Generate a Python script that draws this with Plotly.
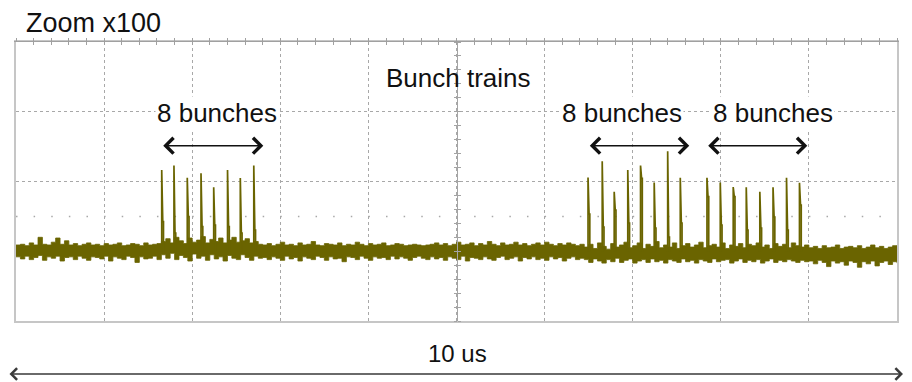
import plotly.graph_objects as go

# ---------------- data ----------------
# oscilloscope baseline envelope, sampled every 0.05 us (0 .. 10 us), in divisions
T_STEP_US = 0.05
upper_edge = [
    1.09, 1.10, 1.08, 1.12, 1.09, 1.20, 1.10, 1.09, 1.13, 1.19, 1.10, 1.15, 1.09, 1.11, 1.08, 1.10, 1.12,
    1.09, 1.10, 1.08, 1.11, 1.09, 1.10, 1.12, 1.08, 1.09, 1.11, 1.10, 1.08, 1.12, 1.09, 1.10, 1.11,
    1.14, 1.18, 1.12, 1.20, 1.15, 1.11, 1.19, 1.13, 1.16, 1.21, 1.12, 1.17, 1.14, 1.19, 1.12, 1.16,
    1.20, 1.13, 1.15, 1.18, 1.12, 1.14, 1.10,
    1.09, 1.11, 1.08, 1.10, 1.13, 1.09, 1.10, 1.08, 1.12, 1.09, 1.10, 1.14, 1.09, 1.08, 1.11, 1.10,
    1.09, 1.12, 1.08, 1.10, 1.09, 1.13, 1.10, 1.08, 1.11, 1.09, 1.10, 1.12, 1.08, 1.09, 1.11, 1.10,
    1.08, 1.09, 1.10, 1.09, 1.08, 1.09, 1.10, 1.12, 1.09, 1.11, 1.08, 1.10, 1.13, 1.09, 1.10, 1.12,
    1.08, 1.11, 1.09, 1.14, 1.10, 1.08, 1.12, 1.09, 1.10, 1.13, 1.09, 1.11, 1.08, 1.10, 1.12, 1.09,
    1.13, 1.10, 1.08, 1.11, 1.09, 1.12, 1.10, 1.08, 1.10,
    1.06, 1.10, 1.04, 1.12, 1.07, 1.03, 1.11, 1.06, 1.09, 1.13, 1.05, 1.08, 1.12, 1.04, 1.10, 1.07,
    1.14, 1.05, 1.09, 1.06, 1.12, 1.04, 1.08, 1.11, 1.06, 1.09, 1.13, 1.05, 1.08, 1.10, 1.06, 1.12,
    1.04, 1.09, 1.07, 1.11, 1.05, 1.10, 1.08, 1.12, 1.06, 1.09, 1.04, 1.11, 1.07, 1.10, 1.05, 1.12,
    1.08, 1.06, 1.09,
    1.05, 1.07, 1.04, 1.08, 1.05, 1.06, 1.09, 1.04, 1.06, 1.07, 1.05, 1.08, 1.04, 1.06, 1.09, 1.05,
    1.07, 1.04, 1.06, 1.08, 1.06,
]
lower_edge = [
    0.92, 0.89, 0.93, 0.88, 0.91, 0.94, 0.87, 0.92, 0.90, 0.93, 0.86, 0.91, 0.92, 0.88, 0.93, 0.90, 0.87,
    0.92, 0.91, 0.89, 0.93, 0.86, 0.92, 0.90, 0.88, 0.93, 0.91, 0.84, 0.92, 0.89, 0.90, 0.93, 0.88,
    0.95, 0.90, 0.97, 0.88, 0.94, 0.91, 0.86, 0.96, 0.90, 0.93, 0.87, 0.95, 0.89, 0.92, 0.86, 0.94,
    0.90, 0.88, 0.95, 0.91, 0.87, 0.93, 0.90,
    0.91, 0.88, 0.92, 0.90, 0.87, 0.93, 0.89, 0.91, 0.86, 0.92, 0.90, 0.88, 0.93, 0.91, 0.87, 0.92,
    0.89, 0.90, 0.85, 0.92, 0.91, 0.88, 0.93, 0.90, 0.87, 0.92, 0.90, 0.91, 0.88, 0.93, 0.89, 0.92,
    0.90, 0.87, 0.91, 0.93, 0.90, 0.88, 0.92, 0.89, 0.91, 0.87, 0.92, 0.90, 0.88, 0.93, 0.86, 0.91,
    0.90, 0.88, 0.92, 0.89, 0.87, 0.91, 0.93, 0.88, 0.90, 0.92, 0.86, 0.91, 0.89, 0.92, 0.88, 0.90,
    0.87, 0.92, 0.89, 0.91, 0.86, 0.90, 0.92, 0.88, 0.90,
    0.88, 0.84, 0.89, 0.86, 0.83, 0.88, 0.85, 0.90, 0.84, 0.87, 0.89, 0.83, 0.86, 0.88, 0.84, 0.89,
    0.85, 0.87, 0.83, 0.88, 0.86, 0.84, 0.89, 0.85, 0.87, 0.83, 0.88, 0.86, 0.84, 0.89, 0.85, 0.87,
    0.88, 0.83, 0.86, 0.89, 0.84, 0.87, 0.85, 0.88, 0.83, 0.86, 0.89, 0.84, 0.87, 0.85, 0.88, 0.86,
    0.84, 0.87, 0.85,
    0.86, 0.82, 0.87, 0.84, 0.78, 0.86, 0.83, 0.85, 0.80, 0.86, 0.84, 0.77, 0.85, 0.82, 0.86, 0.79,
    0.84, 0.86, 0.81, 0.85, 0.83,
]
time_us = [round(i * T_STEP_US, 2) for i in range(len(upper_edge))]

# bunch spikes: time (us), peak (div), secondary ringing level (div)
train1_t = [1.654, 1.793, 1.944, 2.100, 2.244, 2.401, 2.546, 2.699]
train1_peak = [2.165, 2.229, 2.054, 2.119, 1.917, 2.165, 2.050, 2.229]
train1_sec = [1.424, 1.262, 1.495, 1.352, 1.376, 1.352, 1.262, 1.305]

train2_t = [6.493, 6.654, 6.790, 6.944, 7.089, 7.244, 7.397, 7.540]
train2_peak = [2.057, 2.291, 1.854, 2.165, 2.229, 1.986, 2.433, 2.054]
train2_sec = [1.534, 1.348, 1.591, 1.405, 2.046, 1.333, 1.204, 1.405]

train3_t = [7.843, 7.994, 8.141, 8.289, 8.443, 8.593, 8.746, 8.893]
train3_peak = [2.054, 1.986, 1.921, 1.918, 1.854, 1.918, 2.054, 1.983]
train3_sec = [1.782, 1.376, 1.782, 1.305, 1.333, 1.491, 1.305, 1.663]

# annotation arrows above the trains (us)
arrow_start = [1.654, 6.496, 7.840]
arrow_end = [2.807, 7.642, 8.982]
arrow_level = 2.513
label_x = [2.287, 6.875, 8.596]
label_text = ["8 bunches", "8 bunches", "8 bunches"]

# ---------------- figure ----------------
TRACE = "#6a6400"
FONT = "Liberation Sans, Arial, sans-serif"

fig = go.Figure()

fig.add_trace(go.Scatter(x=time_us, y=lower_edge, mode="lines", line=dict(color=TRACE, width=0.8, shape="hv"),
                         hoverinfo="skip"))
fig.add_trace(go.Scatter(x=time_us, y=upper_edge, mode="lines", line=dict(color=TRACE, width=0.8, shape="hv"),
                         fill="tonexty", fillcolor=TRACE, hoverinfo="skip"))

sx, sy = [], []
for ts, ps, ss in ((train1_t, train1_peak, train1_sec),
                   (train2_t, train2_peak, train2_sec),
                   (train3_t, train3_peak, train3_sec)):
    for t, p, s in zip(ts, ps, ss):
        sx += [t, t, t + 0.012, t + 0.02, t + 0.02, None]
        sy += [1.0, p, s, s, 1.0, None]
fig.add_trace(go.Scatter(x=sx, y=sy, mode="lines", line=dict(color=TRACE, width=1.7), hoverinfo="skip"))

# dummy traces to register overlay axes
fig.add_trace(go.Scatter(x=[None], y=[None], xaxis="x2", yaxis="y", hoverinfo="skip"))
fig.add_trace(go.Scatter(x=[None], y=[None], xaxis="x3", yaxis="y", hoverinfo="skip"))
fig.add_trace(go.Scatter(x=[None], y=[None], xaxis="x", yaxis="y2", hoverinfo="skip"))
fig.add_trace(go.Scatter(x=[None], y=[None], xaxis="x", yaxis="y3", hoverinfo="skip"))

GRID = "#a8a8a8"
FRAME = "#c6c6c6"
TICK = "#a0a0a0"
fig.update_layout(
    width=912, height=382,
    margin=dict(l=16, r=15, t=42, b=61, autoexpand=False),
    paper_bgcolor="white", plot_bgcolor="white",
    showlegend=False,
    xaxis=dict(range=[0, 10], dtick=1, showgrid=True, gridcolor=GRID, griddash="dot", gridwidth=1,
               showline=True, linecolor=FRAME, linewidth=1.5, mirror=True, ticks="",
               showticklabels=False, zeroline=False, automargin=False),
    xaxis2=dict(overlaying="x", matches="x", side="top", range=[0, 10], dtick=1, showgrid=False,
                showline=True, linecolor=TICK, linewidth=1, ticks="inside", ticklen=3,
                tickcolor=TICK, showticklabels=False, zeroline=False, automargin=False,
                minor=dict(dtick=0.2, ticks="inside", ticklen=3, tickcolor=TICK, showgrid=False)),
    xaxis3=dict(overlaying="x", matches="x", side="top", range=[0, 10], dtick=1, showgrid=False,
                showline=False, ticks="outside", ticklen=3, tickcolor=TICK,
                showticklabels=False, zeroline=False, automargin=False,
                minor=dict(dtick=0.2, ticks="outside", ticklen=3, tickcolor=TICK, showgrid=False)),
    yaxis=dict(range=[0, 4], dtick=1, showgrid=True, gridcolor=GRID, griddash="dot", gridwidth=1,
               showline=True, linecolor=FRAME, linewidth=1.5, mirror=True, ticks="",
               showticklabels=False, zeroline=False, automargin=False),
    yaxis2=dict(overlaying="y", matches="y", anchor="free", position=0.5, side="left", range=[0, 4],
                dtick=0.2, showgrid=False, showline=True, linecolor="#a4a4a4", linewidth=1,
                ticks="outside", ticklen=3, tickcolor="#a4a4a4", showticklabels=False, zeroline=False,
                automargin=False),
    yaxis3=dict(overlaying="y", matches="y", anchor="free", position=0.5, side="right", range=[0, 4],
                dtick=0.2, showgrid=False, showline=False,
                ticks="outside", ticklen=3, tickcolor="#a4a4a4", showticklabels=False, zeroline=False,
                automargin=False),
)

# sparse dotted reference at 1.5 div
fig.add_shape(type="line", xref="x", yref="y", x0=0, x1=10, y0=1.5, y1=1.5,
              line=dict(color="#a8a8a8", width=1.5, dash="1.5px,16.12px"), layer="below")

# double arrows and labels
for a0, a1, lx, lt in zip(arrow_start, arrow_end, label_x, label_text):
    fig.add_annotation(x=a1, y=arrow_level, ax=a0, ay=arrow_level, xref="x", yref="y", axref="x", ayref="y",
                       text="", showarrow=True, arrowhead=4, startarrowhead=4, arrowside="end+start",
                       arrowwidth=1.6, arrowsize=1.9, startarrowsize=1.9, arrowcolor="#111111")
    fig.add_annotation(x=lx, y=2.98, xref="x", yref="y", text=lt, showarrow=False,
                       font=dict(family=FONT, size=26, color="#111111"), bgcolor="white",
                       xanchor="center", yanchor="middle")

fig.add_annotation(x=5.028, y=3.48, xref="x", yref="y", text="Bunch trains", showarrow=False,
                   font=dict(family=FONT, size=26, color="#111111"), xanchor="center", yanchor="middle")

fig.add_annotation(x=0.009, y=1.068, xref="paper", yref="paper", text="Zoom x100", showarrow=False,
                   font=dict(family=FONT, size=27, color="#111111"), xanchor="left", yanchor="middle")

fig.add_annotation(x=0.501, y=-0.118, xref="paper", yref="paper", text="10 us", showarrow=False,
                   font=dict(family=FONT, size=24, color="#111111"), xanchor="center", yanchor="middle")

fig.add_annotation(x=1.0068, y=-0.19, xref="paper", yref="paper", ax=-895, ay=0, axref="pixel", ayref="pixel",
                   text="", showarrow=True, arrowhead=4, startarrowhead=4, arrowside="end+start",
                   arrowwidth=1.4, arrowsize=1.6, startarrowsize=1.6, arrowcolor="#3a3a3a")

fig.write_html("out.html", config={"displayModeBar": False},
               post_script="document.body.style.margin='0';document.body.style.overflow='hidden';")
